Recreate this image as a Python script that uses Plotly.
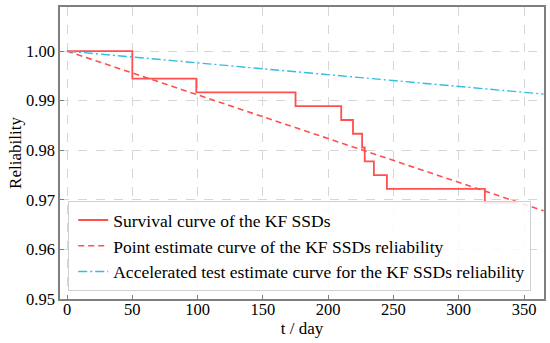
import plotly.graph_objects as go

# Survival (Kaplan-Meier style) step curve
surv_t = [0, 50, 99, 175, 210, 219, 226, 228, 235, 245, 320, 344]
surv_r = [1.0, 0.99444, 0.99167, 0.98889, 0.98611, 0.98333, 0.98056, 0.97778, 0.975, 0.97222, 0.96944, 0.96944]

# Point estimate curve (straight line)
point_t = [0, 365]
point_r = [1.0, 0.9678]

# Accelerated test estimate curve
acc_t = [0, 365]
acc_r = [1.0, 0.99133]

x_ticks = [0, 50, 100, 150, 200, 250, 300, 350]
y_ticks = [0.95, 0.96, 0.97, 0.98, 0.99, 1.00]

names = [
    "Survival curve of the KF SSDs",
    "Point estimate curve of the KF SSDs reliability",
    "Accelerated test estimate curve for the KF SSDs reliability",
]

red = "#ff4f4f"
cyan = "#33bde0"
font = "Times New Roman, Liberation Serif, DejaVu Serif, serif"
tfs = 16.5
lfs = 17.5

fig = go.Figure()
fig.add_trace(go.Scatter(x=surv_t, y=surv_r, mode="lines", name=names[0],
                         line=dict(color=red, width=1.8, shape="hv")))
fig.add_trace(go.Scatter(x=point_t, y=point_r, mode="lines", name=names[1],
                         line=dict(color=red, width=1.6, dash="6px,4px")))
fig.add_trace(go.Scatter(x=acc_t, y=acc_r, mode="lines", name=names[2],
                         line=dict(color=cyan, width=1.4, dash="9px,3px,2px,3px")))

axis_common = dict(
    showline=True, linecolor="#7f7f7f", linewidth=1.6, mirror=True,
    ticks="inside", ticklen=4, tickcolor="#7f7f7f", tickwidth=1,
    showgrid=True, gridcolor="#d6d6d6", griddash="dash", gridwidth=1,
    zeroline=False, automargin=False,
    tickfont=dict(family=font, size=tfs, color="black"),
)

fig.update_xaxes(range=[-5.4, 365.3], tickvals=x_ticks, ticklabelstandoff=-6,
                 title=dict(text="t / day", font=dict(family=font, size=17, color="black"), standoff=2),
                 **axis_common)
fig.update_yaxes(range=[0.95, 1.0089], tickvals=y_ticks, tickformat=".2f",
                 title=dict(text="Reliability", font=dict(family=font, size=17, color="black"), standoff=0),
                 **axis_common)

fig.update_layout(
    width=550, height=343,
    margin=dict(l=60, r=6, t=7, b=44),
    paper_bgcolor="white", plot_bgcolor="white",
    font=dict(family=font, size=lfs, color="black"),
    showlegend=True,
    legend=dict(x=0.017, y=0.027, xanchor="left", yanchor="bottom",
                bgcolor="rgba(255,255,255,0.85)", bordercolor="#d0d0d0", borderwidth=1,
                font=dict(family=font, size=lfs, color="black"),
                tracegroupgap=0, itemwidth=30, indentation=4),
)

fig.write_html("out.html", config={"displayModeBar": False},
               post_script="document.body.style.margin='0';")
